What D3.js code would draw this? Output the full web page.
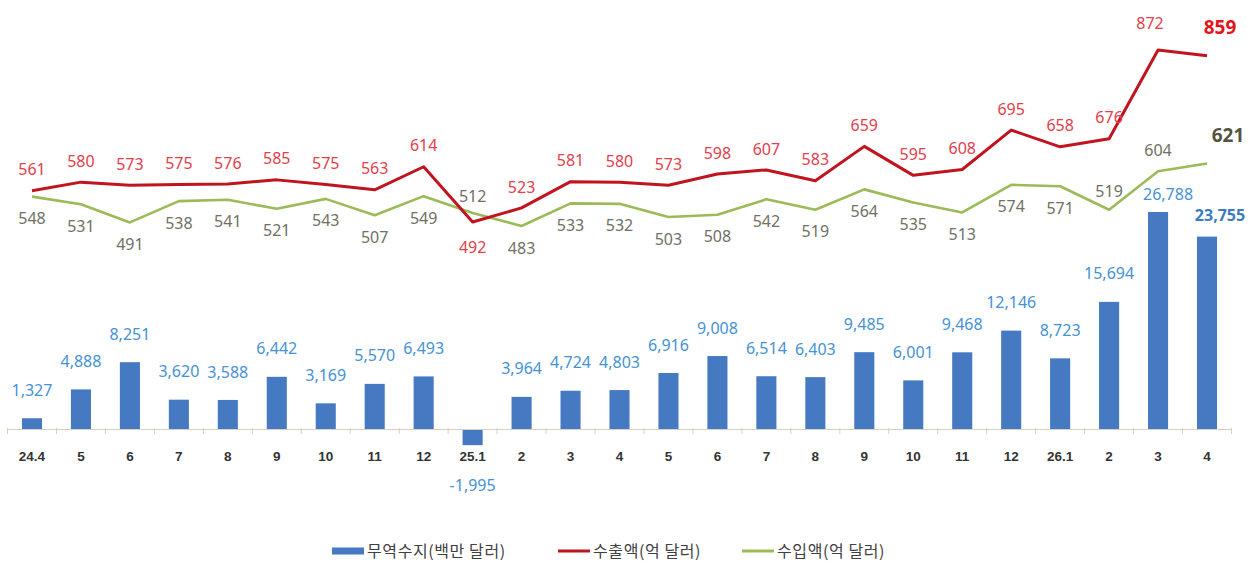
<!DOCTYPE html>
<html>
<head>
<meta charset="utf-8">
<script src="https://cdn.jsdelivr.net/npm/d3@7"></script>
<style>
  html, body { margin: 0; padding: 0; background: #fff; }
  svg { display: block; }
</style>
</head>
<body>
<svg id="chart" width="1255" height="564"></svg>
<script>
const categories = ["24.4","5","6","7","8","9","10","11","12","25.1","2","3","4","5","6","7","8","9","10","11","12","26.1","2","3","4"];
const tradeBalance = [1327, 4888, 8251, 3620, 3588, 6442, 3169, 5570, 6493, -1995, 3964, 4724, 4803, 6916, 9008, 6514, 6403, 9485, 6001, 9468, 12146, 8723, 15694, 26788, 23755];
const exportValues = [561, 580, 573, 575, 576, 585, 575, 563, 614, 492, 523, 581, 580, 573, 598, 607, 583, 659, 595, 608, 695, 658, 676, 872, 859];
const importValues = [548, 531, 491, 538, 541, 521, 543, 507, 549, 512, 483, 533, 532, 503, 508, 542, 519, 564, 535, 513, 574, 571, 519, 604, 621];
const legendLabels = ["무역수지(백만 달러)", "수출액(억 달러)", "수입액(억 달러)"];

const svg = d3.select("#chart");
const n = categories.length;
const last = n - 1;

const x = d3.scaleBand().domain(d3.range(n)).range([7.5, 1231.5]).paddingInner(0.59).paddingOuter(0.295);
const cx = i => x(i) + x.bandwidth() / 2;
const yBar = d3.scaleLinear().domain([-5000, 30000]).range([469.5, 186]);
const yLine = d3.scaleLinear().domain([400, 900]).range([263.6, 37.3]);

const fmtRaw = d3.format(",");
const fmt = d => fmtRaw(d).replace("\u2212", "-");
const labelFont = "'Noto Sans', 'DejaVu Sans', sans-serif";

// Bars
svg.append("g").selectAll("rect").data(tradeBalance).join("rect")
  .attr("x", (d, i) => x(i))
  .attr("width", x.bandwidth())
  .attr("y", d => Math.min(yBar(d), yBar(0)))
  .attr("height", d => Math.abs(yBar(d) - yBar(0)))
  .attr("fill", "#4579c2");

// Axis
const axis = d3.axisBottom(x).tickSize(0).tickSizeOuter(0).tickPadding(22).tickFormat(i => categories[i]);
const ax = svg.append("g").attr("transform", `translate(0,${yBar(0)})`).call(axis);
ax.select(".domain").attr("stroke", "#d6cfc2").attr("stroke-width", 1.2);
ax.selectAll("text").attr("font-family", "'Liberation Sans', Arial, sans-serif")
  .attr("font-weight", "bold").attr("font-size", "13.5px").attr("fill", "#333");
// boundary ticks
svg.append("g").selectAll("line").data(d3.range(n + 1)).join("line")
  .attr("x1", i => x.range()[0] + i * x.step()).attr("x2", i => x.range()[0] + i * x.step())
  .attr("y1", yBar(0) - 1).attr("y2", yBar(0) + 5)
  .attr("stroke", "#d6cfc2").attr("stroke-width", 1);

// Bar labels
svg.append("g").selectAll("text").data(tradeBalance).join("text")
  .attr("x", (d, i) => cx(i) + (i === last ? 13 : i === last - 1 ? 10 : 0))
  .attr("y", (d, i) => {
    if (d < 0) return yBar(d) + 40;
    if (i === last - 1) return yBar(d) - 18;
    if (i === last) return yBar(d) - 21;
    return yBar(d) - 28;
  })
  .attr("dy", "0.35em")
  .attr("text-anchor", "middle")
  .attr("font-family", labelFont)
  .attr("font-size", "16px")
  .attr("font-weight", (d, i) => i === last ? "bold" : "normal")
  .attr("fill", (d, i) => i === last ? "#3a7cc4" : "#4592d4")
  .text(d => fmt(d));

// Lines
const line = vals => d3.line().x((d, i) => cx(i)).y(d => yLine(d))(vals);
svg.append("path").attr("d", line(importValues)).attr("fill", "none")
  .attr("stroke", "#9bbb59").attr("stroke-width", 2.6).attr("stroke-linejoin", "round");
svg.append("path").attr("d", line(exportValues)).attr("fill", "none")
  .attr("stroke", "#c0141f").attr("stroke-width", 3).attr("stroke-linejoin", "round");

// Export labels
svg.append("g").selectAll("text").data(exportValues).join("text")
  .attr("x", (d, i) => cx(i) + (i === last ? 13 : i === last - 1 ? -8 : 0))
  .attr("y", (d, i) => {
    if (i === 9) return yLine(d) + 25;
    if (i === last - 1) return yLine(d) - 27;
    if (i === last) return yLine(d) - 29;
    return yLine(d) - 21;
  })
  .attr("dy", "0.35em")
  .attr("text-anchor", "middle")
  .attr("font-family", labelFont)
  .attr("font-size", (d, i) => i === last ? "19px" : "16px")
  .attr("font-weight", (d, i) => i === last ? "bold" : "normal")
  .attr("fill", (d, i) => i === last ? "#e3141c" : "#e2404c")
  .text(d => d);

// Import labels
svg.append("g").selectAll("text").data(importValues).join("text")
  .attr("x", (d, i) => cx(i) + (i === last ? 21 : 0))
  .attr("y", (d, i) => {
    if (i === 9) return yLine(d) - 17;
    if (i === last - 2) return yLine(d) - 18;
    if (i === last - 1) return yLine(d) - 21;
    if (i === last) return yLine(d) - 28;
    return yLine(d) + 22;
  })
  .attr("dy", "0.35em")
  .attr("text-anchor", "middle")
  .attr("font-family", labelFont)
  .attr("font-size", (d, i) => i === last ? "19px" : "16px")
  .attr("font-weight", (d, i) => i === last ? "bold" : "normal")
  .attr("fill", (d, i) => i === last ? "#55553f" : "#707064")
  .text(d => d);

// Legend
const legendFont = "'Noto Sans CJK KR', 'Noto Sans', sans-serif";
const legendX = [332, 558, 742];
const legendY = 551;
const lg = svg.append("g");
legendLabels.forEach((lab, k) => {
  const g = lg.append("g").attr("transform", `translate(${legendX[k]},${legendY})`);
  if (k === 0) {
    g.append("rect").attr("x", 0).attr("y", -3.5).attr("width", 32).attr("height", 7).attr("fill", "#4579c2");
  } else {
    g.append("line").attr("x1", 0).attr("x2", 32).attr("y1", 0).attr("y2", 0)
      .attr("stroke", k === 1 ? "#c0141f" : "#9bbb59").attr("stroke-width", 3);
  }
  g.append("text").attr("x", 35).attr("y", 0).attr("dy", "0.35em")
    .attr("font-family", legendFont).attr("font-size", "16px").attr("letter-spacing", "0.6px")
    .attr("fill", "#404040")
    .text(lab);
});
</script>
</body>
</html>
